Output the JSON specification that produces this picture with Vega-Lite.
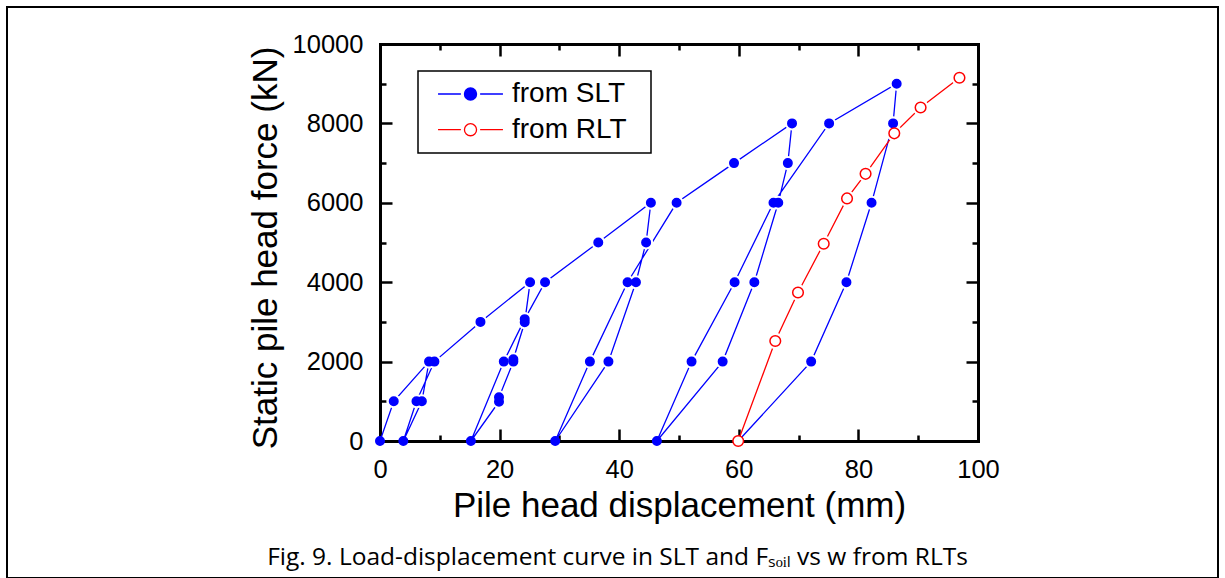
{
  "$schema": "https://vega.github.io/schema/vega-lite/v6.json",
  "width": 1211,
  "height": 571,
  "autosize": {"type": "none"},
  "padding": {"left": 7, "top": 7, "right": 7, "bottom": 0},
  "background": "white",
  "title": {
    "text": "Fig. 9. Load-displacement curve in SLT and Fₛₒᵢₗ vs w from RLTs",
    "orient": "bottom",
    "anchor": "middle",
    "frame": "group",
    "offset": -32,
    "dx": 5,
    "font": "Open Sans",
    "fontSize": 24.5,
    "fontWeight": "normal",
    "color": "black"
  },
  "data": {
    "values": [
      {"s": "from SLT", "i": 1, "d": 0, "F": 0},
      {"s": "from SLT", "i": 2, "d": 2.3, "F": 1000},
      {"s": "from SLT", "i": 3, "d": 8.2, "F": 2000},
      {"s": "from SLT", "i": 4, "d": 7.0, "F": 1000},
      {"s": "from SLT", "i": 5, "d": 3.9, "F": 0},
      {"s": "from SLT", "i": 6, "d": 6.1, "F": 1000},
      {"s": "from SLT", "i": 7, "d": 9.1, "F": 2000},
      {"s": "from SLT", "i": 8, "d": 16.8, "F": 3000},
      {"s": "from SLT", "i": 9, "d": 25.1, "F": 4000},
      {"s": "from SLT", "i": 10, "d": 24.2, "F": 2990},
      {"s": "from SLT", "i": 11, "d": 22.3, "F": 2060},
      {"s": "from SLT", "i": 12, "d": 22.3, "F": 2000},
      {"s": "from SLT", "i": 13, "d": 19.9, "F": 1100},
      {"s": "from SLT", "i": 14, "d": 19.9, "F": 990},
      {"s": "from SLT", "i": 15, "d": 15.2, "F": 0},
      {"s": "from SLT", "i": 16, "d": 20.7, "F": 2000},
      {"s": "from SLT", "i": 17, "d": 24.2, "F": 3070},
      {"s": "from SLT", "i": 18, "d": 27.6, "F": 4000},
      {"s": "from SLT", "i": 19, "d": 36.5, "F": 5000},
      {"s": "from SLT", "i": 20, "d": 45.3, "F": 6000},
      {"s": "from SLT", "i": 21, "d": 44.5, "F": 5000},
      {"s": "from SLT", "i": 22, "d": 42.8, "F": 4000},
      {"s": "from SLT", "i": 23, "d": 38.2, "F": 2000},
      {"s": "from SLT", "i": 24, "d": 29.3, "F": 0},
      {"s": "from SLT", "i": 25, "d": 35.1, "F": 2000},
      {"s": "from SLT", "i": 26, "d": 41.4, "F": 4000},
      {"s": "from SLT", "i": 27, "d": 49.6, "F": 6000},
      {"s": "from SLT", "i": 28, "d": 59.2, "F": 7000},
      {"s": "from SLT", "i": 29, "d": 68.9, "F": 8000},
      {"s": "from SLT", "i": 30, "d": 68.2, "F": 7000},
      {"s": "from SLT", "i": 31, "d": 66.6, "F": 6000},
      {"s": "from SLT", "i": 32, "d": 62.6, "F": 4000},
      {"s": "from SLT", "i": 33, "d": 57.3, "F": 2000},
      {"s": "from SLT", "i": 34, "d": 46.3, "F": 0},
      {"s": "from SLT", "i": 35, "d": 52.1, "F": 2000},
      {"s": "from SLT", "i": 36, "d": 59.3, "F": 4000},
      {"s": "from SLT", "i": 37, "d": 65.8, "F": 6000},
      {"s": "from SLT", "i": 38, "d": 75.1, "F": 8000},
      {"s": "from SLT", "i": 39, "d": 86.4, "F": 9000},
      {"s": "from SLT", "i": 40, "d": 85.8, "F": 8000},
      {"s": "from SLT", "i": 41, "d": 82.2, "F": 6000},
      {"s": "from SLT", "i": 42, "d": 78.0, "F": 4000},
      {"s": "from SLT", "i": 43, "d": 72.1, "F": 2000},
      {"s": "from SLT", "i": 44, "d": 59.9, "F": 0},
      {"s": "from RLT", "i": 1, "d": 59.9, "F": 0},
      {"s": "from RLT", "i": 2, "d": 66.1, "F": 2520},
      {"s": "from RLT", "i": 3, "d": 69.9, "F": 3740},
      {"s": "from RLT", "i": 4, "d": 74.2, "F": 4970},
      {"s": "from RLT", "i": 5, "d": 78.1, "F": 6110},
      {"s": "from RLT", "i": 6, "d": 81.2, "F": 6730},
      {"s": "from RLT", "i": 7, "d": 86.0, "F": 7750},
      {"s": "from RLT", "i": 8, "d": 90.4, "F": 8400},
      {"s": "from RLT", "i": 9, "d": 96.9, "F": 9150}
    ]
  },
  "layer": [
    {
      "transform": [{"filter": "datum.s === 'from SLT'"}],
      "mark": {"type": "line", "strokeWidth": 1.3, "stroke": "#0000ff"},
      "encoding": {
        "x": {"field": "d", "type": "quantitative",
          "scale": {"domain": [0, 100], "range": [373, 971], "nice": false, "zero": false},
          "axis": {"orient": "bottom", "offset": -137, "values": [0, 20, 40, 60, 80, 100], "grid": false,
            "tickSize": -12, "tickWidth": 2.5, "tickColor": "black",
            "domain": true, "domainWidth": 3, "domainColor": "black", "domainCap": "square",
            "labelFont": "Liberation Sans", "labelFontSize": 25.5, "labelColor": "black", "labelPadding": 28,
            "labelFlush": false, "labelOverlap": false,
            "title": "Pile head displacement (mm)", "titleFont": "Liberation Sans", "titleFontSize": 35,
            "titleFontWeight": "normal", "titleColor": "black", "titlePadding": 6}},
        "y": {"field": "F", "type": "quantitative",
          "scale": {"domain": [0, 10000], "range": [434, 37], "nice": false, "zero": false},
          "axis": {"orient": "left", "offset": -373, "values": [0, 2000, 4000, 6000, 8000, 10000], "grid": false,
            "tickSize": -12, "tickWidth": 2.5, "tickColor": "black",
            "domain": true, "domainWidth": 3, "domainColor": "black", "domainCap": "square",
            "labelFont": "Liberation Sans", "labelFontSize": 25.5, "labelColor": "black", "labelPadding": 29,
            "labelFlush": false, "labelOverlap": false, "format": "d",
            "title": "Static pile head force (kN)", "titleFont": "Liberation Sans", "titleFontSize": 35,
            "titleFontWeight": "normal", "titleColor": "black", "titlePadding": 9, "titleY": 240.5}},
        "order": {"field": "i", "type": "quantitative"}
      }
    },
    {
      "transform": [{"filter": "datum.s === 'from RLT'"}],
      "mark": {"type": "line", "strokeWidth": 1.3, "stroke": "#ff0000"},
      "encoding": {
        "x": {"field": "d", "type": "quantitative",
          "scale": {"domain": [0, 100], "range": [373, 971], "nice": false, "zero": false}, "axis": null},
        "y": {"field": "F", "type": "quantitative",
          "scale": {"domain": [0, 10000], "range": [434, 37], "nice": false, "zero": false}, "axis": null},
        "order": {"field": "i", "type": "quantitative"}
      }
    },
    {
      "transform": [{"filter": "datum.s === 'from SLT' && datum.F > 0"}],
      "mark": {"type": "point", "filled": true, "fill": "white", "strokeWidth": 0, "size": 200, "opacity": 1},
      "encoding": {
        "x": {"field": "d", "type": "quantitative",
          "scale": {"domain": [0, 100], "range": [373, 971], "nice": false, "zero": false},
          "axis": {"orient": "bottom", "offset": -137, "values": [10, 30, 50, 70, 90], "grid": false,
            "tickSize": -6, "tickWidth": 2.5, "tickColor": "black", "domain": false, "labels": false, "title": null}},
        "y": {"field": "F", "type": "quantitative",
          "scale": {"domain": [0, 10000], "range": [434, 37], "nice": false, "zero": false},
          "axis": {"orient": "left", "offset": -373, "values": [1000, 3000, 5000, 7000, 9000], "grid": false,
            "tickSize": -6, "tickWidth": 2.5, "tickColor": "black", "domain": false, "labels": false, "title": null}}
      }
    },
    {
      "transform": [{"filter": "datum.s === 'from RLT' && datum.F > 0"}],
      "mark": {"type": "point", "filled": true, "fill": "white", "strokeWidth": 0, "size": 269, "opacity": 1},
      "encoding": {
        "x": {"field": "d", "type": "quantitative",
          "scale": {"domain": [0, 100], "range": [373, 971], "nice": false, "zero": false},
          "axis": {"orient": "top", "offset": -37, "values": [0, 20, 40, 60, 80, 100], "grid": false,
            "tickSize": -12, "tickWidth": 2.5, "tickColor": "black",
            "domain": true, "domainWidth": 3, "domainColor": "black", "domainCap": "square",
            "labels": false, "title": null}},
        "y": {"field": "F", "type": "quantitative",
          "scale": {"domain": [0, 10000], "range": [434, 37], "nice": false, "zero": false},
          "axis": {"orient": "right", "offset": -240, "values": [0, 2000, 4000, 6000, 8000, 10000], "grid": false,
            "tickSize": -12, "tickWidth": 2.5, "tickColor": "black",
            "domain": true, "domainWidth": 3, "domainColor": "black", "domainCap": "square",
            "labels": false, "title": null}}
      }
    },
    {
      "mark": {"type": "point", "filled": true, "opacity": 1, "strokeWidth": 1.5},
      "encoding": {
        "x": {"field": "d", "type": "quantitative",
          "scale": {"domain": [0, 100], "range": [373, 971], "nice": false, "zero": false},
          "axis": {"orient": "top", "offset": -37, "values": [10, 30, 50, 70, 90], "grid": false,
            "tickSize": -6, "tickWidth": 2.5, "tickColor": "black", "domain": false, "labels": false, "title": null}},
        "y": {"field": "F", "type": "quantitative",
          "scale": {"domain": [0, 10000], "range": [434, 37], "nice": false, "zero": false},
          "axis": {"orient": "right", "offset": -240, "values": [1000, 3000, 5000, 7000, 9000], "grid": false,
            "tickSize": -6, "tickWidth": 2.5, "tickColor": "black", "domain": false, "labels": false, "title": null}},
        "fill": {"field": "s", "type": "nominal",
          "scale": {"domain": ["from SLT", "from RLT"], "range": ["#0000ff", "#ffffff"]},
          "legend": {"title": null, "orient": "none", "legendX": 411, "legendY": 64,
            "symbolType": "M-5.9,0L-1.75,0M1.75,0L5.9,0M-1.1,0A1.1,1.1,0,1,0,1.1,0A1.1,1.1,0,1,0,-1.1,0ZM30.6,0",
            "symbolSize": 121, "symbolStrokeWidth": 1.3, "symbolOpacity": 1,
            "labelFont": "Liberation Sans", "labelFontSize": 28, "labelColor": "black", "labelLimit": 0,
            "padding": 9, "rowPadding": 7.7, "symbolOffset": 29.5, "labelOffset": 27.5,
            "strokeColor": "black", "fillColor": "white"}},
        "stroke": {"field": "s", "type": "nominal",
          "scale": {"domain": ["from SLT", "from RLT"], "range": ["#0000ff", "#ff0000"]},
          "legend": {"title": null, "orient": "none", "legendX": 411, "legendY": 64,
            "symbolType": "M-5.9,0L-1.75,0M1.75,0L5.9,0M-1.1,0A1.1,1.1,0,1,0,1.1,0A1.1,1.1,0,1,0,-1.1,0ZM30.6,0",
            "symbolSize": 121, "symbolStrokeWidth": 1.3, "symbolOpacity": 1,
            "labelFont": "Liberation Sans", "labelFontSize": 28, "labelColor": "black", "labelLimit": 0,
            "padding": 9, "rowPadding": 7.7, "symbolOffset": 29.5, "labelOffset": 27.5,
            "strokeColor": "black", "fillColor": "white"}},
        "size": {"field": "s", "type": "nominal",
          "scale": {"domain": ["from RLT", "from SLT"], "range": [113, 72]}, "legend": null}
      }
    }
  ],
  "resolve": {"axis": {"x": "independent", "y": "independent"}},
  "config": {
    "view": {"stroke": "black", "strokeWidth": 2},
    "legend": {"strokeWidth": 1.5}
  }
}
